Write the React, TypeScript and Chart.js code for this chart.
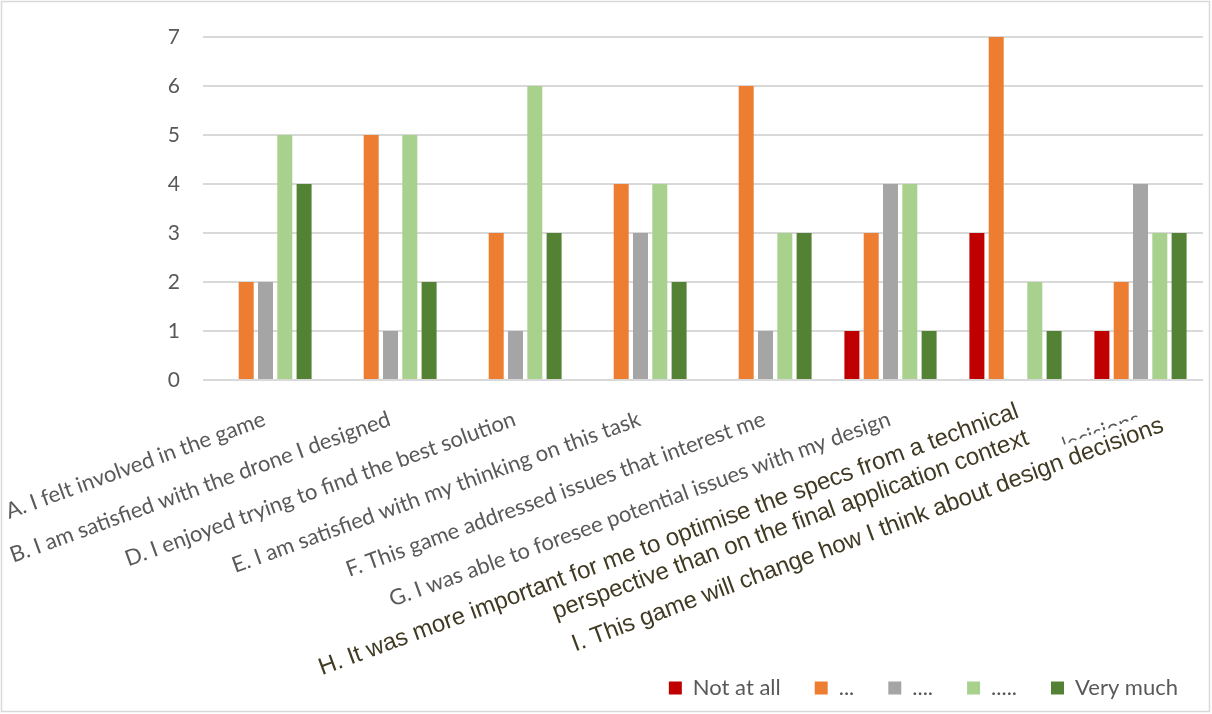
import React, { useEffect, useRef } from "react";
import { Chart, registerables } from "chart.js";

Chart.register(...registerables);

const categories = [
  "A. I felt involved in the game",
  "B. I am satisfied with the drone I designed",
  "D. I enjoyed trying to find the best solution",
  "E. I am satisfied with my thinking on this task",
  "F. This game addressed issues that interest me",
  "G. I was able to foresee potential issues with my design",
  "H. It was more important for me to optimise the specs from a technical perspective than on the final application context",
  "I. This game will change how I think about design decisions",
];
const overlayH = [
  "H. It was more important for me to optimise the specs from a technical",
  "perspective than on the final application context",
];
const overlayI = ["I. This game will change how I think about design decisions"];

const seriesNames = ["Not at all", "...", "....", ".....", "Very much"];
const notAtAll = [0, 0, 0, 0, 0, 1, 3, 1];
const dots3 = [2, 5, 3, 4, 6, 3, 7, 2];
const dots4 = [2, 1, 1, 3, 1, 4, 0, 4];
const dots5 = [5, 5, 6, 4, 3, 4, 2, 3];
const veryMuch = [4, 2, 3, 2, 3, 1, 1, 3];
const seriesValues = [notAtAll, dots3, dots4, dots5, veryMuch];
const seriesColors = ["#c00000", "#ed7d31", "#a5a5a5", "#a9d18e", "#548235"];
const yTickValues = [0, 1, 2, 3, 4, 5, 6, 7];

const GRAY_TEXT = "#595959";
const OLIVE = "#403a23";
const LABEL_FONT = "Lato";
const X_LABEL_SIZE = 22;
const Y_LABEL_SIZE = 21;
const LEGEND_SIZE = 22;
const X_PAD = 26;
const X_OFFSET = -1;
const PLOT_BOTTOM = 380;
const LAYOUT_BOTTOM = 5;

const overlayPlugin = {
  id: "overlayLabels",
  afterDraw(chart: any) {
    const ctx = chart.ctx;
    const xs = chart.scales.x;
    const rot = (xs.labelRotation * Math.PI) / 180;
    const top = xs.top + X_PAD;
    ctx.save();
    ctx.font = `${X_LABEL_SIZE}px ${LABEL_FONT}`;
    // white text boxes covering the original H and I category labels
    [6, 7].forEach((i) => {
      const px = xs.getPixelForTick(i) + X_OFFSET;
      const w = ctx.measureText(categories[i]).width;
      ctx.save();
      ctx.translate(px, top);
      ctx.rotate(-rot);
      ctx.fillStyle = "#ffffff";
      if (i === 6) {
        ctx.fillRect(-w - 8, -6, w + 14, 40);
      } else {
        ctx.fillRect(-w - 8, -6, w + 8 - 84, 40);
        ctx.fillRect(-85, 10.5, 90, 30);
      }
      ctx.restore();
    });
    const drawLines = (lines: string[], ax: number, ay: number, deg: number, size: number, lh: number) => {
      ctx.save();
      ctx.translate(ax, ay);
      ctx.rotate((-deg * Math.PI) / 180);
      ctx.font = `${size}px "Liberation Sans", Arial, sans-serif`;
      ctx.fillStyle = OLIVE;
      ctx.textAlign = "right";
      ctx.textBaseline = "alphabetic";
      lines.forEach((l, k) => ctx.fillText(l, 0, k * lh));
      ctx.restore();
    };
    drawLines(overlayH, xs.getPixelForTick(6) + 4.5, xs.top + 37, 20.3, 24, 28.5);
    drawLines(overlayI, xs.getPixelForTick(7) + 24.5, xs.top + 51, 20.5, 24, 28.5);
    // outer chart border
    ctx.strokeStyle = "#d9d9d9";
    ctx.lineWidth = 1.5;
    ctx.strokeRect(1.5, 1.5, 1208, 710);
    ctx.restore();
  },
};

export default function App() {
  const ref = useRef<HTMLCanvasElement | null>(null);
  useEffect(() => {
    if (!ref.current) return;
    const chart = new Chart(ref.current, {
      type: "bar",
      data: {
        labels: categories,
        datasets: seriesNames.map((name, i) => ({
          label: name,
          data: seriesValues[i],
          backgroundColor: seriesColors[i],
          borderWidth: 0,
          categoryPercentage: 0.772,
          barPercentage: 0.777,
        })),
      },
      options: {
        animation: false,
        responsive: true,
        maintainAspectRatio: false,
        layout: { padding: { top: 37, left: 0, right: 0, bottom: LAYOUT_BOTTOM } },
        plugins: {
          tooltip: { enabled: false },
          legend: {
            position: "bottom",
            align: "end",
            labels: {
              boxWidth: 13,
              boxHeight: 13,
              padding: 34,
              color: GRAY_TEXT,
              font: { family: LABEL_FONT, size: LEGEND_SIZE },
            },
          },
        },
        scales: {
          x: {
            grid: { display: false, drawTicks: false },
            border: { display: false },
            ticks: {
              autoSkip: false,
              minRotation: 20,
              maxRotation: 20,
              padding: X_PAD,
              labelOffset: X_OFFSET,
              color: GRAY_TEXT,
              font: { family: LABEL_FONT, size: X_LABEL_SIZE },
            },
            afterFit: (s: any) => {
              const lh = s.chart.legend ? s.chart.legend.height : 68;
              s.height = s.chart.height - PLOT_BOTTOM - lh - LAYOUT_BOTTOM;
              s.paddingLeft = 0;
              s.paddingRight = 9;
              s.paddingTop = 0;
              s.paddingBottom = 0;
            },
          },
          y: {
            min: 0,
            max: 7,
            afterBuildTicks: (s: any) => {
              s.ticks = yTickValues.map((v) => ({ value: v }));
            },
            grid: { color: "#d9d9d9", lineWidth: 2, drawTicks: false },
            border: { display: false },
            ticks: {
              padding: 23,
              color: GRAY_TEXT,
              font: { family: LABEL_FONT, size: Y_LABEL_SIZE },
            },
            afterFit: (s: any) => {
              s.width = 203;
            },
          },
        },
      },
      plugins: [overlayPlugin],
    });
    return () => chart.destroy();
  }, []);
  return (
    <div style={{ position: "absolute", left: 0, top: 0, width: 1212, height: 714, background: "#fff" }}>
      <canvas ref={ref} />
    </div>
  );
}
